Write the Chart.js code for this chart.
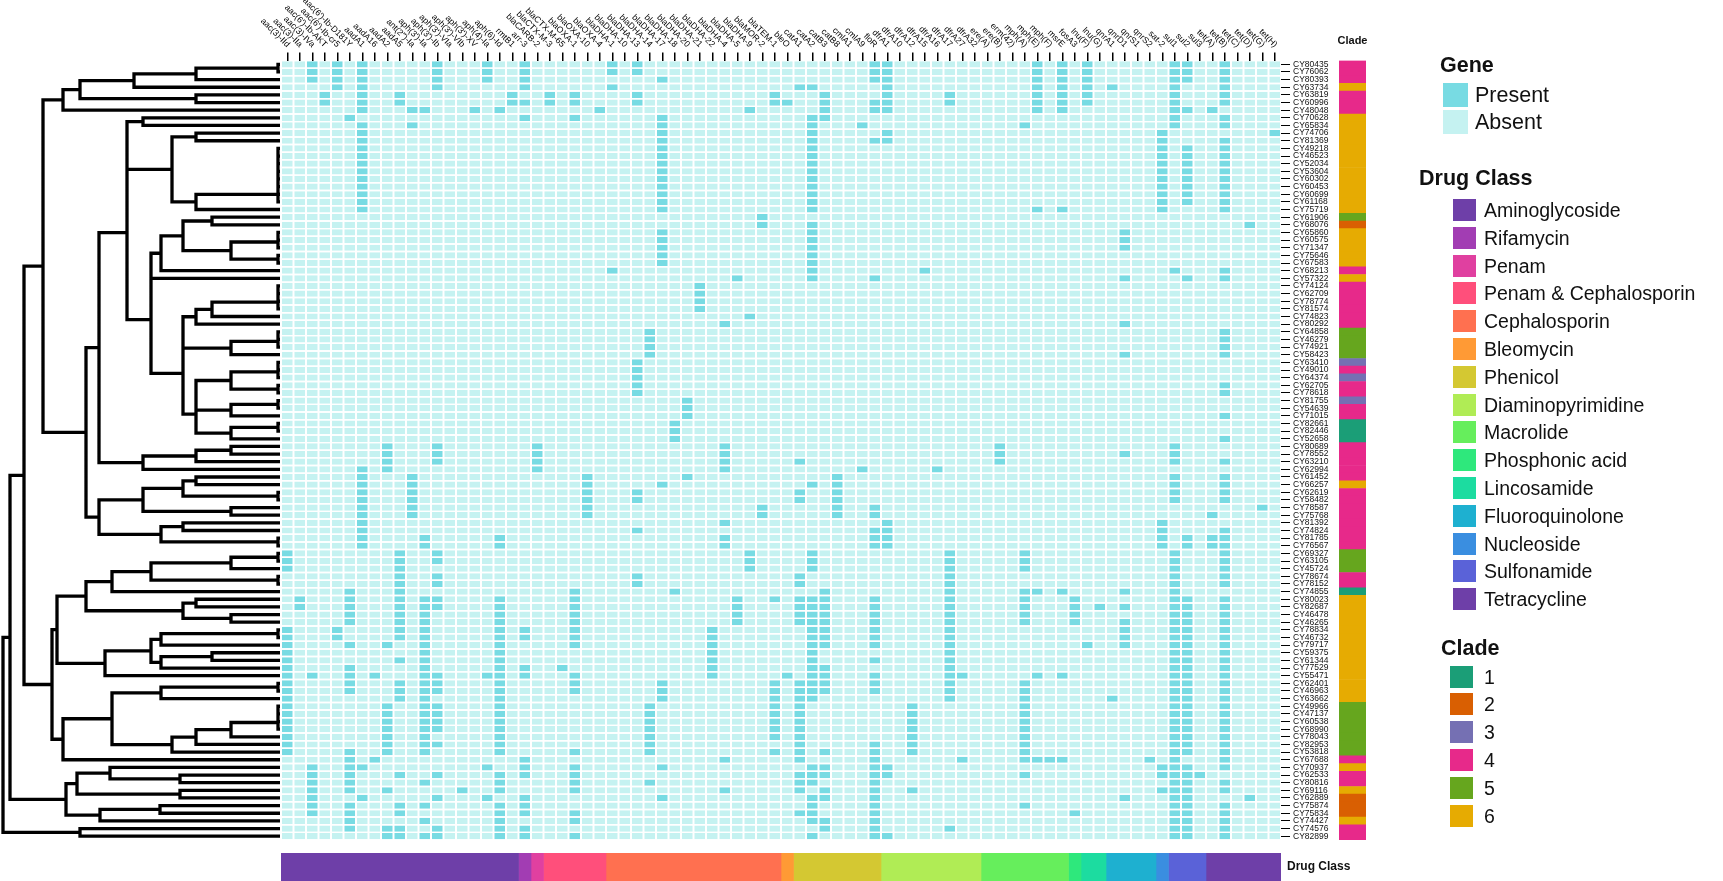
<!DOCTYPE html>
<html>
<head>
<meta charset="utf-8">
<title>Resistance genes heatmap</title>
<script src="https://cdn.jsdelivr.net/npm/chart.js@4"></script>
<style>
  html, body { margin: 0; padding: 0; background: #fff; }
  body { width: 1723px; height: 881px; overflow: hidden; position: relative; font-family: "Liberation Sans", Arial, sans-serif; color: #111; }
  canvas { position: absolute; top: 0; }
  .ttl { position: absolute; font-weight: bold; font-size: 21.5px; line-height: 24px; }
  .lab { position: absolute; font-size: 19.5px; line-height: 24px; white-space: nowrap; }
  .big { font-size: 21.5px; }
  .key { position: absolute; }
</style>
</head>
<body>
<canvas id="dendro" width="280" height="881" style="left:0"></canvas>
<canvas id="heat" width="1723" height="881" style="left:0"></canvas>
<canvas id="clade" width="67" height="881" style="left:1320px"></canvas>
<canvas id="drug" width="1723" height="881" style="left:0"></canvas>
<div id="legend"></div>
<script>
const rowNames = ["CY80435","CY76062","CY80393","CY63734","CY63819","CY60996","CY48048","CY70628","CY65834","CY74706","CY81369","CY49218","CY46523","CY52034","CY53604","CY60302","CY60453","CY60699","CY61168","CY75719","CY61906","CY68076","CY65860","CY60575","CY71347","CY75646","CY67583","CY68213","CY57322","CY74124","CY62709","CY78774","CY81574","CY74823","CY80292","CY64858","CY46279","CY74921","CY58423","CY63410","CY49010","CY64374","CY62705","CY78618","CY81755","CY54639","CY71015","CY82661","CY82446","CY52658","CY80689","CY78552","CY63210","CY62994","CY61452","CY66257","CY62619","CY58482","CY78587","CY75768","CY81392","CY74824","CY81785","CY76567","CY69327","CY63105","CY45724","CY78674","CY78152","CY74855","CY80023","CY82687","CY46478","CY46265","CY78834","CY46732","CY79717","CY59375","CY61344","CY77529","CY55471","CY62401","CY46963","CY63662","CY49966","CY47137","CY60538","CY68990","CY78043","CY82953","CY53818","CY67688","CY70937","CY62533","CY80816","CY69116","CY62889","CY75874","CY75834","CY74427","CY74576","CY82899"];

const geneNames = ["aac(3)-IId","aac(3)-IIa","aac(3)-IVa","aac(6')-Ib-AKT","aac(6')-Ib-cr5","aac(6')-Ib-D181Y","aadA1","aadA16","aadA2","aadA5","ant(2'')-Ia","aph(3')-Ia","aph(3')-Ib","aph(3')-VIa","aph(3')-VIb","aph(3')-XV","aph(4)-Ia","aph(6)-Id","rmtB1","arr-3","blaCARB-2","blaCTX-M-3","blaCTX-M-65","blaOXA-1","blaOXA-10","blaOXA-4","blaDHA-1","blaDHA-10","blaDHA-13","blaDHA-14","blaDHA-17","blaDHA-18","blaDHA-20","blaDHA-21","blaDHA-22","blaDHA-4","blaDHA-5","blaDHA-9","blaMOR-2","blaTEM-1","bleO","catA1","catA2","catB3","catB8","cmlA1","cmlA9","floR","dfrA1","dfrA10","dfrA12","dfrA15","dfrA16","dfrA17","dfrA27","dfrA32","ere(A)","ere(B)","erm(42)","mph(A)","mph(E)","mph(F)","msrE","fosA3","lnu(F)","lnu(G)","qnrA1","qnrD1","qnrS1","qnrS2","sat-2","sul1","sul2","sul3","tet(A)","tet(B)","tet(C)","tet(D)","tet(G)","tet(H)"];

// gene indexes that are present, one list per row
const presentByRow = [
  [2,4,6,12,16,19,26,28,47,48,60,62,64,71,72,75],
  [2,4,6,12,16,19,26,28,47,48,60,62,64,71,72,75],
  [2,4,6,12,16,19,30,47,48,60,62,64,71,72,75],
  [4,6,12,19,26,41,42,48,60,62,64,66,71,75],
  [3,6,9,18,21,23,28,39,43,48,53,60,62,64,71,75],
  [3,6,9,18,19,21,23,28,39,40,43,47,48,53,60,62,64,71,75],
  [6,10,11,15,17,25,37,43,47,48,60,62,71,72,74],
  [5,19,23,30,42,43,71,75],
  [6,10,30,42,46,59,71,75],
  [6,30,42,48,70,79],
  [6,30,42,47,48,70,75],
  [6,30,42,70,72,75],[6,30,42,70,72,75],[6,30,42,70,72,75],[6,30,42,70,72,75],
  [6,30,42,70,72,75],[6,30,42,70,72,75],[6,30,42,70,72,75],[6,30,42,70,72,75],
  [6,30,42,60,62,70,75],
  [38],
  [38,42,77],
  [30,42,67],[30,42,67],[30,42,67],
  [30,42],[30,42],
  [26,42,51,71,75],
  [36,42,47,67,72,75],
  [33],[33],[33],[33],
  [37],
  [35,67],
  [29,75],[29,75],[29,75],
  [29,67,75],
  [28],[28],[28],
  [28,75],[28,75],
  [32],[32],
  [32,75],
  [31],[31],
  [31,75],
  [8,12,20,35,57,71],
  [8,12,20,35,57,67,71],
  [8,12,20,35,41,57,71,75],
  [6,8,20,35,46,52],
  [6,10,24,32,44,71,75],
  [6,10,24,30,42,44,71,75],
  [6,10,24,28,41,44,71,75],
  [6,10,24,28,41,44,71,75],
  [6,10,24,38,44,47,78],
  [6,10,24,38,44,47,74],
  [6,35,48,70],
  [6,28,47,48,70,75],
  [6,11,17,35,47,48,70,72,74,75],
  [6,11,17,35,47,48,70,72,74,75],
  [0,9,12,37,42,53,59,71,75],
  [0,9,12,37,42,53,59,71,75],
  [0,9,37,42,53,59,71,75],
  [9,12,28,41,53,71,75],
  [9,12,28,41,53,71,75],
  [5,9,23,31,43,53,59,60,62,67,71],
  [1,5,9,11,12,17,23,36,39,41,42,43,47,53,59,63,71,72,75],
  [1,5,9,11,12,17,23,36,41,42,43,47,53,59,63,65,67,71,72,75],
  [5,9,11,17,23,36,41,42,43,47,53,59,63,71,72,75],
  [5,9,11,17,23,36,41,42,43,47,53,59,63,67,71,72,75],
  [0,4,9,11,17,19,23,34,42,43,47,53,67,71,72,75],
  [0,4,9,11,17,19,23,34,42,43,47,53,67,71,72,75],
  [0,5,8,11,17,23,34,42,43,47,53,64,67,71,72,75],
  [0,11,17,34,42,53,71,72,75],
  [0,9,11,17,34,42,47,53,71,72,75],
  [0,5,11,17,19,22,34,42,43,53,71,72,75],
  [0,2,5,7,11,12,16,17,19,23,34,40,42,43,47,53,54,60,62,71,72,75],
  [0,5,9,11,12,17,23,30,39,41,42,43,47,53,59,71,72,75],
  [0,5,9,11,12,17,23,30,39,41,42,43,47,53,59,71,72,75],
  [0,9,11,17,30,39,41,42,53,59,66,71,72,75],
  [0,8,11,12,17,29,39,41,50,59,71,72,75],
  [0,8,11,12,17,29,39,41,50,59,71,72,75],
  [0,8,11,12,17,29,39,41,50,59,71,72,75],
  [0,8,11,12,17,29,39,41,50,59,71,72,75],
  [0,8,11,17,29,39,41,50,59,71,72,75],
  [0,8,11,12,17,29,41,47,50,59,71,72,75],
  [0,5,8,11,17,23,29,39,41,43,47,50,59,71,72,75],
  [5,7,19,35,41,47,54,59,60,61,62,69,71,75],
  [2,5,6,16,19,23,30,42,43,47,48,70,71,72,75],
  [2,5,9,12,17,19,23,41,42,43,47,48,59,70,71,72,73],
  [2,5,11,17,23,29,41,42,47,71,72,75],
  [2,5,8,14,17,23,35,41,43,47,50,70,71,72,75],
  [2,6,12,16,19,30,42,43,47,67,71,72,77],
  [2,5,9,11,17,19,42,47,59,71,72,75],
  [2,5,9,17,19,23,41,42,47,63,71,72,75],
  [5,11,17,23,42,43,47,71,72,75],
  [5,8,9,12,17,19,43,47,53,71,72,75],
  [8,9,11,12,17,19,23,42,47,48,71,72,75]
];

const cladeNames = ["1","2","3","4","5","6"];
const cladeColors = ["#1B9E77","#D95F02","#7570B3","#E7298A","#66A61E","#E6AB02"];
const cladeByRow = [4,4,4,6,4,4,4,6,6,6,6,6,6,6,6,6,6,6,6,6,5,2,6,6,6,6,6,4,6,4,4,4,4,4,4,5,5,5,5,3,4,3,4,4,3,4,4,1,1,1,4,4,4,4,4,6,4,4,4,4,4,4,4,4,5,5,5,4,4,1,6,6,6,6,6,6,6,6,6,6,6,6,6,6,5,5,5,5,5,5,5,4,6,4,4,6,2,2,2,6,4,4];

const drugClassNames = ["Aminoglycoside","Rifamycin","Penam","Penam & Cephalosporin","Cephalosporin","Bleomycin","Phenicol","Diaminopyrimidine","Macrolide","Phosphonic acid","Lincosamide","Fluoroquinolone","Nucleoside","Sulfonamide","Tetracycline"];
const drugClassGeneCounts = [19,1,1,5,14,1,7,8,7,1,2,4,1,3,6];
const drugClassColors = ["#6E3FA8","#A23DB3","#E040A0","#FF4F7B","#FF7050","#FF9A35","#D4C832","#B0EC55","#66EE5C","#2EE87C","#1CDCA0","#1EB0D0","#3A8EE0","#5A62D8","#6E3FA8"];

const geneStates = ["Present","Absent"];
const geneStateColors = ["#78DBE3","#C5F2F1"];

// tree: [height, childA, childB], a plain number is a row
const rowTree = [277,
  [270,
    [256,
      [237,
        [217, [200, [146, [84, [2,0,1], 2], 3], [84,4,5]], 6],
        [194,
          [181,
            [153,
              [153, [137,7,8],
                [108, [84,9,10], [84, [2,[2,[2,[2,[2,[2,[2,11,12],13],14],15],16],17],18], 19]]],
              [129,
                [129, [119, [97, [68,20,21], [49, [2,[2,22,23],24], [2,25,26]]], 27], 28],
                [97,
                  [97,
                    [84, [68, [2,[2,[2,29,30],31],32], 33], 34],
                    [49, [2,[2,35,36],37], 38]],
                  [84,
                    [84, [49, [2,[2,39,40],41], [2,42,43]], [49, [2,44,45], 46]],
                    [49, [2,47,48], 49]]]]],
            [137, [84, [49,50,51], 52], 53]],
          [181,
            [137, [97, [84,54,55], [2,56,57]], [49,58,59]],
            [119, [97,60,61], [2,62,63]]]]],
      [228,
        [223,
          [194,
            [168, [129, [49, [2,64,65], 66], [2,67,68]], 69],
            [97, [84,70,71], [49,72,73]]],
          [175,
            [129, [119, [2,74,75], 76], [119, [68,77,78], 79]],
            80]],
        [217,
          [168,
            [119, [2,81,82], 83],
            [108, [84, [49, [2,[2,[2,84,85],86],87], 88], 89], 90]],
          91]]],
    [214,
      [203, [170, 92, [100,93,94]], [100,95,96]],
      [180, [120,97,98], 99]]],
  [200,100,101]];

const rowCount = rowNames.length;
const geneCount = geneNames.length;

// walk the tree into elbow lines
function treeLines(node, out) {
  if (typeof node === "number") return { x: 0, y: node + 0.5 };
  const a = treeLines(node[1], out);
  const b = treeLines(node[2], out);
  out.push({x: a.x, y: a.y}, {x: node[0], y: a.y}, {x: node[0], y: b.y}, {x: b.x, y: b.y}, {x: NaN, y: NaN});
  return { x: node[0], y: (a.y + b.y) / 2 };
}
const treePoints = [];
treeLines(rowTree, treePoints);

new Chart(document.getElementById("dendro"), {
  type: "scatter",
  data: { datasets: [{ data: treePoints, showLine: true, borderColor: "#000", borderWidth: 3.3, pointRadius: 0, borderCapStyle: "square", borderJoinStyle: "miter", clip: false }] },
  options: {
    responsive: false, animation: false,
    layout: { padding: { top: 60.5, bottom: 41 } },
    plugins: { legend: { display: false }, tooltip: { enabled: false } },
    scales: {
      x: { display: false, reverse: true, min: 0, max: 280 },
      y: { display: false, reverse: true, min: 0, max: rowCount }
    }
  }
});

// gene names run down to the right and end at their tick
const geneLabelPlugin = {
  id: "geneLabels",
  afterDraw(chart) {
    const ctx = chart.ctx, scale = chart.scales.x;
    ctx.save();
    ctx.font = "8.7px 'Liberation Sans'";
    ctx.fillStyle = "#000";
    ctx.textAlign = "right";
    ctx.textBaseline = "middle";
    geneNames.forEach((g, i) => {
      ctx.save();
      ctx.translate(scale.getPixelForValue(i + 0.5) + 1, 46);
      ctx.rotate(Math.PI / 4);
      ctx.fillText(g, 0, 0);
      ctx.restore();
    });
    ctx.restore();
  }
};

const heatDatasets = geneNames.map((g, i) => ({
  label: g,
  data: rowNames.map(() => [i, i + 1]),
  backgroundColor: rowNames.map((r, ri) => presentByRow[ri].includes(i) ? geneStateColors[0] : geneStateColors[1]),
  borderColor: "#fff",
  borderWidth: { left: 1, right: 1, top: 0, bottom: 0 },
  borderSkipped: false,
  inflateAmount: 0,
  barPercentage: 1,
  categoryPercentage: 0.81,
  grouped: false
}));

new Chart(document.getElementById("heat"), {
  type: "bar",
  data: { labels: rowNames, datasets: heatDatasets },
  plugins: [geneLabelPlugin],
  options: {
    indexAxis: "y", responsive: false, animation: false,
    layout: { padding: { left: 281, top: 52.5, right: 382, bottom: 41 } },
    plugins: { legend: { display: false }, tooltip: { enabled: false } },
    scales: {
      x: {
        position: "top", min: 0, max: geneCount,
        afterBuildTicks: s => { s.ticks = geneNames.map((g, i) => ({ value: i + 0.5 })); },
        afterFit: s => { s.height = 8; },
        ticks: { display: false, autoSkip: false },
        border: { display: false },
        grid: { drawOnChartArea: false, drawTicks: true, tickLength: 8, color: "#000", lineWidth: 1.5 }
      },
      y: {
        position: "right",
        afterFit: s => { s.width = 60; },
        ticks: { autoSkip: false, font: { family: "Liberation Sans", size: 8.5 }, color: "#111", padding: 3 },
        border: { display: false },
        grid: { drawOnChartArea: false, drawTicks: true, offset: false, tickLength: 9, color: "#000", lineWidth: 1 }
      }
    }
  }
});

new Chart(document.getElementById("clade"), {
  type: "bar",
  data: { labels: rowNames, datasets: [{ data: rowNames.map(() => [0, 1]), backgroundColor: cladeByRow.map(c => cladeColors[c - 1]), barPercentage: 1, categoryPercentage: 1 }] },
  options: {
    indexAxis: "y", responsive: false, animation: false,
    layout: { padding: { left: 19, right: 21, top: 30.5, bottom: 41 } },
    plugins: { legend: { display: false }, tooltip: { enabled: false } },
    scales: {
      x: {
        position: "top", min: 0, max: 1,
        afterBuildTicks: s => { s.ticks = [{ value: 0.5 }]; },
        afterFit: s => { s.height = 30; },
        ticks: { callback: () => "Clade", autoSkip: false, maxRotation: 0, font: { family: "Liberation Sans", size: 11, weight: "bold" }, color: "#111", padding: 0 },
        border: { display: false },
        grid: { drawOnChartArea: false, drawTicks: true, tickLength: 13, color: "transparent" }
      },
      y: { display: false }
    }
  }
});

new Chart(document.getElementById("drug"), {
  type: "bar",
  data: {
    labels: ["Drug Class"],
    datasets: drugClassNames.map((n, i) => ({ label: n, data: [drugClassGeneCounts[i]], backgroundColor: drugClassColors[i], barPercentage: 1, categoryPercentage: 1 }))
  },
  options: {
    indexAxis: "y", responsive: false, animation: false,
    layout: { padding: { left: 281, top: 853, right: 342, bottom: 0 } },
    plugins: { legend: { display: false }, tooltip: { enabled: false } },
    scales: {
      x: { display: false, stacked: true, min: 0, max: geneCount },
      y: {
        position: "right", stacked: true,
        afterFit: s => { s.width = 100; s.paddingTop = 0; s.paddingBottom = 0; },
        ticks: { font: { family: "Liberation Sans", size: 12, weight: "bold" }, color: "#111", padding: 0 },
        border: { display: false },
        grid: { drawOnChartArea: false, drawTicks: true, tickLength: 6, color: "transparent" }
      }
    }
  }
});

// legends on the right
const legend = document.getElementById("legend");
function addEl(cls, text, left, midY, w, h, color) {
  const d = document.createElement("div");
  d.className = cls;
  d.style.left = left + "px";
  if (text !== null) { d.textContent = text; d.style.top = (midY - 12) + "px"; }
  else { d.style.top = (midY - h / 2) + "px"; d.style.width = w + "px"; d.style.height = h + "px"; d.style.background = color; }
  legend.appendChild(d);
}
function addLegend(title, titleX, titleY, names, colors, keyX, firstY, keySize, labelX, labelCls) {
  addEl("ttl", title, titleX, titleY);
  names.forEach((n, i) => {
    const y = firstY + i * 27.8;
    addEl("key", null, keyX, y, keySize, keySize - 1, colors[i]);
    addEl(labelCls, n, labelX, y);
  });
}
addLegend("Gene", 1440, 65, geneStates, geneStateColors, 1443, 94.5, 25, 1475, "lab big");
addLegend("Drug Class", 1419, 178, drugClassNames, drugClassColors, 1453, 210, 23, 1484, "lab");
addLegend("Clade", 1441, 648, cladeNames, cladeColors, 1450, 676.5, 23, 1484, "lab");
</script>
</body>
</html>
